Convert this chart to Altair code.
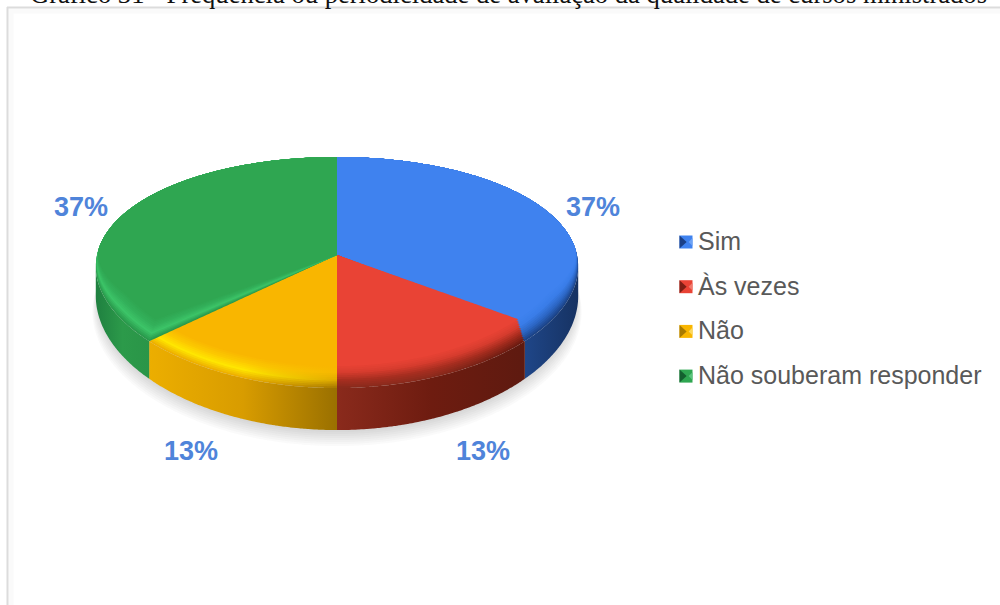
import math
import numpy as np
import pandas as pd
import altair as alt

TITLE = "Gráfico 31 - Frequência ou periodicidade de avaliação da qualidade de cursos ministrados"
categories = ["Sim", "Às vezes", "Não", "Não souberam responder"]
shares = [37, 13, 13, 37]

face_colors = ["#3f82ef", "#e94335", "#f9b600", "#2fa651"]
# rim shading from the outer edge of the top face inwards, at the slice's left and right ends
rim_left = [
    ["#1c4488", "#2c66c4", "#3a7de8", "#3f82ef"],
    ["#8a2a1c", "#a82e20", "#d63c2e", "#e94335"],
    ["#eeb000", "#ffe600", "#fcc800", "#f9b600"],
    ["#2a9a4c", "#3cc468", "#33b05a", "#2fa651"],
]
rim_right = [
    ["#1c4488", "#2c66c4", "#3a7de8", "#3f82ef"],
    ["#6a1a10", "#a02a1c", "#d63c2e", "#e94335"],
    ["#a87a00", "#e0aa00", "#f6b800", "#f9b600"],
    ["#2a9a4c", "#3cc468", "#33b05a", "#2fa651"],
]
wall_colors = [
    ["#1f4688", "#163262"],
    ["#8a2a1c", "#6e1c10", "#5e1a10"],
    ["#ecae00", "#d89c00", "#9a7000"],
    ["#1f8040", "#2c9a4a", "#2a9548"],
]
legend_dark = ["#1a3f86", "#7d1e14", "#a87a00", "#14602f"]
legend_light = ["#6ea3f5", "#f07a6e", "#fbd860", "#5cc47e"]

CX, CY = 337.0, 255.0
RX, RY = 240.0, 112.9
KX, KY = 0.10, 0.1515
BEVEL_STEPS = 13


def rim(theta, level=0.0):
    """Rim of the disc in perspective; theta runs clockwise from the back."""
    u, v = np.sin(theta), -np.cos(theta)
    x = CX + RX * u / (1 - KX * v)
    y = CY + RY * v / (1 - KY * v)
    g = np.clip((v + 0.1) / 0.6, 0, 1)
    return x - level * 9 * u * g, y - level * 22 * g


def depth(theta):
    return 28 + 14 * (-np.cos(theta))


def mix(stops, pos):
    """Colour at pos (0..1) along a list of hex stops."""
    rgb = np.array([[int(c[k:k + 2], 16) for k in (1, 3, 5)] for c in stops], dtype=float)
    f = pos * (len(stops) - 1)
    i = min(int(f), len(stops) - 2)
    c = rgb[i] + (rgb[i + 1] - rgb[i]) * (f - i)
    return "#%02x%02x%02x" % tuple(int(round(n)) for n in c)


def scanline(poly, key):
    """Turn a convex polygon into x / y / y2 rows for an area mark."""
    px, py = poly
    xs = np.unique(np.clip(np.concatenate([px, np.arange(px.min(), px.max(), 3.0)]), px.min(), px.max()))
    rows = []
    x1, y1, x2, y2 = px, py, np.roll(px, -1), np.roll(py, -1)
    for x in xs:
        hit = (np.minimum(x1, x2) <= x + 1e-6) & (np.maximum(x1, x2) >= x - 1e-6)
        ys = []
        for a, b, c, d in zip(x1[hit], y1[hit], x2[hit], y2[hit]):
            if abs(c - a) < 1e-6:
                ys += [b, d]
            else:
                ys.append(b + (d - b) * min(max((x - a) / (c - a), 0), 1))
        rows.append({"x": round(float(x), 2), "y": round(float(min(ys)), 2), "y2": round(float(max(ys)), 2), "key": key})
    return rows


def h_gradient(colours):
    return alt.Gradient(
        gradient="linear", x1=0, x2=1, y1=0, y2=0,
        stops=[alt.GradientStop(color=c, offset=j / (len(colours) - 1)) for j, c in enumerate(colours)],
    )


X = alt.X("x:Q", scale=alt.Scale(domain=[0, 1000], nice=False, zero=False), axis=None)
Y = alt.Y("y:Q", scale=alt.Scale(domain=[605, 0], nice=False, zero=False), axis=None)
Y2 = alt.Y2("y2:Q")

cum = np.cumsum([0] + shares) / sum(shares) * 2 * math.pi
layers = []

# soft shadow under the disc
grid = np.linspace(0, 2 * math.pi, 160, endpoint=False)
shadow_rows = []
for i in range(9):
    gx, gy = rim(grid)
    gx = CX + (gx - CX) * (1.014 - 0.003 * i)
    gy = gy + depth(grid) + 16 - 2.0 * i
    shadow_rows += scanline((gx, gy), f"s{i}")
layers.append(
    alt.Chart(pd.DataFrame(shadow_rows)).mark_area(color="#555555", opacity=0.032).encode(x=X, y=Y, y2=Y2, detail="key:N")
)

# side walls: only the part of the rim that faces the viewer
fine = np.linspace(0, 2 * math.pi, 1441)
fx, _ = rim(fine)
t_right, t_left = fine[np.argmax(fx)], fine[np.argmin(fx)]
for i in range(len(shares)):
    a, b = max(cum[i], t_right), min(cum[i + 1], t_left)
    if b <= a:
        continue
    t = np.linspace(a, b, 60)
    tx, ty = rim(t)
    poly = (np.concatenate([tx, tx[::-1]]), np.concatenate([ty, (ty + depth(t))[::-1]]))
    layers.append(
        alt.Chart(pd.DataFrame(scanline(poly, f"w{i}"))).mark_area(color=h_gradient(wall_colors[i])).encode(x=X, y=Y, y2=Y2)
    )

# top face, painted from the rim shading inwards for each slice
for i in range(len(shares)):
    for j in range(BEVEL_STEPS):
        pos = j / (BEVEL_STEPS - 1)
        t = np.linspace(cum[i], cum[i + 1], 70)
        ax, ay = rim(t, pos)
        poly = (np.concatenate([[CX], ax]), np.concatenate([[CY], ay]))
        left, right = mix(rim_left[i], pos), mix(rim_right[i], pos)
        fill = h_gradient([left, left, right]) if left != right else left
        layers.append(
            alt.Chart(pd.DataFrame(scanline(poly, f"{i}-{j}"))).mark_area(color=fill).encode(x=X, y=Y, y2=Y2)
        )

# percentage labels beside each slice
label_rows = []
for i, share in enumerate(shares):
    mid = (cum[i] + cum[i + 1]) / 2
    mx, my = rim(np.array([mid]))
    side = 1 if mx[0] > CX else -1
    label_rows.append({
        "x": CX + (mx[0] - CX) * 1.029 + 38 * side,
        "y": CY + (my[0] - CY) * 1.50 + 16.7,
        "text": f"{share}%",
    })
layers.append(
    alt.Chart(pd.DataFrame(label_rows))
    .mark_text(font="Liberation Sans", fontWeight="bold", fontSize=27, color="#4f84da", baseline="middle")
    .encode(x=X, y=Y, text="text:N")
)

# legend
legend = pd.DataFrame({
    "x": [686.0] * 4,
    "tx": [698.0] * 4,
    "y": [242 + k * 44.7 for k in range(4)],
    "text": categories,
    "face": face_colors,
    "dark": legend_dark,
    "light": legend_light,
})
legend_base = alt.Chart(legend)
for shape, field in [("M-1,-1L1,-1L1,1L-1,1Z", "face"), ("M-1,-1L0.1,0L-1,1Z", "dark"), ("M1,-0.6L0.4,0L1,0.6Z", "light")]:
    layers.append(
        legend_base.mark_point(filled=True, shape=shape, size=169, opacity=1, strokeWidth=0).encode(
            x=X, y=Y, color=alt.Color(f"{field}:N", scale=None)
        )
    )
layers.append(
    legend_base.mark_text(font="Liberation Sans", fontSize=25, color="#595959", align="left", baseline="middle").encode(
        x=alt.X("tx:Q", scale=alt.Scale(domain=[0, 1000], nice=False, zero=False), axis=None), y=Y, text="text:N"
    )
)

# frame of the embedded chart and the caption cut by the page edge
sx = alt.Scale(domain=[0, 1000], nice=False, zero=False)
sy = alt.Scale(domain=[605, 0], nice=False, zero=False)
top_table = pd.DataFrame({"y": [7.5], "a": [7.0], "b": [1000.0]})
left_table = pd.DataFrame({"x": [7.5], "a": [7.0], "b": [605.0]})
band_top = pd.DataFrame({"y": [11.0], "a": [9.0], "b": [1000.0]})
band_left = pd.DataFrame({"x": [11.0], "a": [9.0], "b": [605.0]})
frame = []
for table, colour, width in [(band_top, "#fafafa", 5), (top_table, "#dcdcdc", 2)]:
    frame.append(alt.Chart(table).mark_rule(color=colour, strokeWidth=width).encode(
        x=alt.X("a:Q", scale=sx, axis=None), x2="b:Q", y=Y))
for table, colour, width in [(band_left, "#fafafa", 5), (left_table, "#dcdcdc", 2)]:
    frame.append(alt.Chart(table).mark_rule(color=colour, strokeWidth=width).encode(
        x=X, y=alt.Y("a:Q", scale=sy, axis=None), y2="b:Q"))
caption = alt.Chart(pd.DataFrame({"x": [30.0], "y": [2.5], "text": [TITLE]})).mark_text(
    font="Liberation Serif", fontSize=26.6, color="#111111", align="left", baseline="alphabetic"
).encode(x=X, y=Y, text="text:N")
layers = frame + [caption] + layers

chart = (
    alt.layer(*layers)
    .properties(width=1000, height=605, padding=0, autosize=alt.AutoSizeParams(type="none"), background="#ffffff")
    .configure_view(stroke=None)
)
chart.save("out.html", embed_options={"renderer": "svg", "actions": False})
